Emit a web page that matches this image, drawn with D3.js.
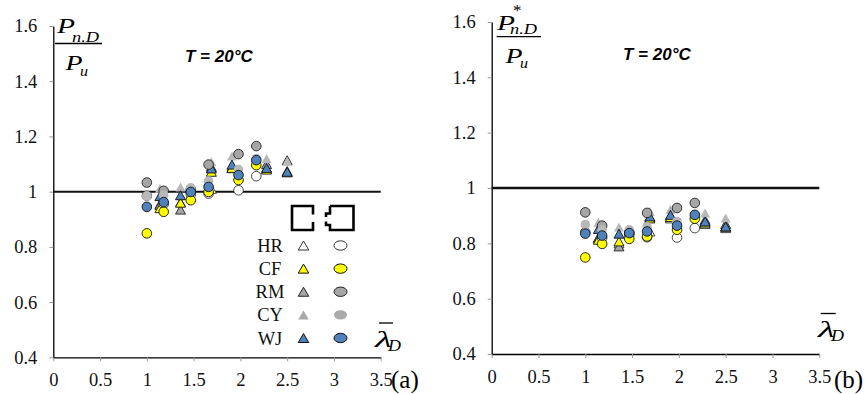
<!DOCTYPE html>
<html><head><meta charset="utf-8">
<script src="https://cdn.jsdelivr.net/npm/d3@7"></script>
<style>body{margin:0;background:#fff}svg{display:block}</style>
</head><body><svg id="c" width="866" height="394"></svg>
<script>
// ---- data ----
const xTicks = [0, 0.5, 1, 1.5, 2, 2.5, 3, 3.5];
const xTickLabels = ["0", "0.5", "1", "1.5", "2", "2.5", "3", "3.5"];
const yTicks = [0.4, 0.6, 0.8, 1, 1.2, 1.4, 1.6];
const yTickLabels = ["0.4", "0.6", "0.8", "1", "1.2", "1.4", "1.6"];
const series = ["HR", "RM", "CY", "CF", "WJ"];          // drawing order
const legendOrder = ["HR", "CF", "RM", "CY", "WJ"];
const triX = [1.14, 1.36, 1.69, 1.91, 2.28, 2.5];
const cirX = [1.0, 1.18, 1.47, 1.66, 1.98, 2.17];
// panel (a): P_n.D / P_u
const aTri = {
  HR: [0.955, 0.962, 1.01, 1.085, 1.085, 1.075],
  CF: [0.94, 0.96, 1.072, 1.086, 1.08, 1.07],
  RM: [0.952, 0.935, 1.09, 1.09, 1.10, 1.114],
  CY: [1.012, 1.017, 1.108, 1.129, 1.12, 1.11],
  WJ: [0.984, 0.987, 1.084, 1.098, 1.086, 1.072]
};
const aCir = {
  HR: [0.985, 0.955, 0.99, 0.993, 1.005, 1.056],
  CF: [0.849, 0.927, 0.969, 0.999, 1.042, 1.096],
  RM: [1.033, 1.003, 1.008, 1.098, 1.136, 1.165],
  CY: [0.984, 0.987, 1.014, 1.038, 1.08, 1.12],
  WJ: [0.945, 0.962, 0.999, 1.017, 1.06, 1.114]
};
// panel (b): P*_n.D / P_u
const bTri = {
  HR: [0.82, 0.80, 0.843, 0.89, 0.87, 0.855],
  CF: [0.813, 0.807, 0.89, 0.895, 0.875, 0.86],
  RM: [0.82, 0.789, 0.895, 0.90, 0.885, 0.87],
  CY: [0.876, 0.859, 0.915, 0.922, 0.91, 0.892],
  WJ: [0.852, 0.835, 0.897, 0.903, 0.879, 0.861]
};
const bCir = {
  HR: [0.84, 0.82, 0.83, 0.822, 0.821, 0.855],
  CF: [0.749, 0.798, 0.816, 0.825, 0.849, 0.889],
  RM: [0.912, 0.864, 0.84, 0.91, 0.928, 0.946],
  CY: [0.868, 0.849, 0.849, 0.86, 0.879, 0.90],
  WJ: [0.835, 0.828, 0.837, 0.843, 0.864, 0.903]
};
const refValue = 1;

// ---- styles ----
const fill = {HR: "#ffffff", CF: "#ffff00", RM: "#a6a6a6", CY: "#b8b8b8", WJ: "#4f81bd"};
const stroke = {HR: "#333", CF: "#111", RM: "#222", CY: "none", WJ: "#111"};

const svg = d3.select("#c");
const serif = "'Liberation Serif','Times New Roman',serif";

function triPath(cx, cy, w, h) {
  return `M${cx},${cy - h / 2}L${cx + w / 2},${cy + h / 2}L${cx - w / 2},${cy + h / 2}Z`;
}

function panel(p) {
  const x = d3.scaleLinear().domain([0, 3.5]).range([p.x0, p.x1]);
  const y = d3.scaleLinear().domain([0.4, 1.6]).range([p.y0, p.y1]);
  const g = svg.append("g");

  const ax = g.append("g").attr("transform", `translate(0,${p.y0})`)
    .call(d3.axisBottom(x).tickValues(xTicks).tickFormat((d, i) => xTickLabels[i])
      .tickSize(4).tickSizeOuter(0).tickPadding(12));
  const ay = g.append("g").attr("transform", `translate(${p.x0},0)`)
    .call(d3.axisLeft(y).tickValues(yTicks).tickFormat((d, i) => yTickLabels[i])
      .tickSize(4).tickSizeOuter(0).tickPadding(12));
  [ax, ay].forEach(a => {
    a.attr("font-family", serif).attr("font-size", 18.5);
    a.select(".domain").attr("stroke", "#000").attr("stroke-width", 1.3);
    a.selectAll(".tick line").attr("stroke", "#999");
    a.selectAll(".tick text").style("font-family", serif).style("font-size", "18.5px").attr("fill", "#111");
  });

  // reference line
  g.append("line").attr("x1", x(0)).attr("x2", x(3.5)).attr("y1", y(refValue)).attr("y2", y(refValue))
    .attr("stroke", "#111").attr("stroke-width", p.refW);

  // markers
  series.forEach(s => {
    g.selectAll(null).data(p.tri[s]).enter().append("path")
      .attr("d", (v, i) => triPath(x(triX[i]), y(v), 10, 9))
      .attr("fill", fill[s]).attr("stroke", stroke[s]).attr("stroke-width", 0.9);
  });
  series.forEach(s => {
    g.selectAll(null).data(p.cir[s]).enter().append("circle")
      .attr("cx", (v, i) => x(cirX[i])).attr("cy", v => y(v)).attr("r", 4.8)
      .attr("fill", fill[s]).attr("stroke", stroke[s]).attr("stroke-width", 0.9);
  });

  // T = 20°C
  g.append("text").attr("x", p.tx).attr("y", p.ty).text("T = 20°C")
    .attr("font-family", "'Liberation Sans',Arial,sans-serif").attr("font-weight", "bold")
    .attr("font-style", "italic").attr("font-size", 17);

  // y label fraction
  const f = p.frac;
  const it = (xx, yy, t, fs, tl) => {
    const e = g.append("text").attr("x", xx).attr("y", yy).text(t)
      .style("font-family", serif).style("font-style", "italic").style("font-size", fs + "px");
    if (tl) e.attr("textLength", tl).attr("lengthAdjust", "spacingAndGlyphs");
    return e;
  };
  it(f.nx, f.ny, "P", 22, 18);
  it(f.sx, f.sy, "n.D", 14, 27);
  if (f.star) g.append("text").attr("x", f.star[0]).attr("y", f.star[1]).text("*")
    .style("font-family", serif).style("font-size", "17px");
  g.append("line").attr("x1", f.l1).attr("x2", f.l2).attr("y1", f.ly).attr("y2", f.ly)
    .attr("stroke", "#000").attr("stroke-width", 1.3);
  it(f.dx, f.dy, "P", 22, 17);
  it(f.ux, f.uy, "u", 14, 8);

  // x label lambda bar D
  const l = p.lam;
  it(l.x, l.y, "λ", 24, 17);
  g.append("line").attr("x1", l.b1).attr("x2", l.b2).attr("y1", l.by).attr("y2", l.by)
    .attr("stroke", "#000").attr("stroke-width", 1.3);
  it(l.x + 13, l.y + 4, "D", 16, 13);

  // panel letter
  g.append("text").attr("x", p.lx).attr("y", 388).text(p.letter)
    .style("font-family", serif).style("font-size", "25px");
  return {x, y, g};
}

const A = panel({
  x0: 53.3, x1: 380.7, y0: 357.3, y1: 26, refW: 2, tri: aTri, cir: aCir,
  tx: 185, ty: 61.5, letter: "(a)", lx: 391,
  frac: {nx: 57, ny: 33, sx: 72, sy: 41.5, l1: 55, l2: 102, ly: 43.5, dx: 65.5, dy: 70, ux: 80, uy: 75.5},
  lam: {x: 375, y: 346.5, b1: 379, b2: 393, by: 323}
});
const B = panel({
  x0: 491.7, x1: 819.3, y0: 354, y1: 22, refW: 2.6, tri: bTri, cir: bCir,
  tx: 623, ty: 59.5, letter: "(b)", lx: 834,
  frac: {nx: 497, ny: 29.5, sx: 510, sy: 34, star: [513, 16], l1: 496.7, l2: 541, ly: 36.7, dx: 505.5, dy: 63, ux: 520, uy: 68},
  lam: {x: 818, y: 337, b1: 820.7, b2: 835.7, by: 313.5}
});

// legend (panel a)
const lg = svg.append("g");
const rowY = d3.scalePoint().domain(legendOrder).range([245.5, 338]);
const triCol = 303.5, cirCol = 340.5;
lg.selectAll(null).data(legendOrder).enter().append("text")
  .attr("x", 270).attr("y", d => rowY(d) + 6.5).attr("text-anchor", "middle").text(d => d)
  .style("font-family", serif).style("font-size", "18.5px").attr("fill", "#111");
lg.selectAll(null).data(legendOrder).enter().append("path")
  .attr("d", d => triPath(triCol, rowY(d), 10.5, 9))
  .attr("fill", d => d === "CY" ? "#aaaaaa" : fill[d]).attr("stroke", d => stroke[d]).attr("stroke-width", 1);
lg.selectAll(null).data(legendOrder).enter().append("ellipse")
  .attr("cx", cirCol).attr("cy", d => rowY(d)).attr("rx", 6.5).attr("ry", 4.7)
  .attr("fill", d => d === "CY" ? "#aaaaaa" : fill[d]).attr("stroke", d => stroke[d]).attr("stroke-width", 1);
// section icons
lg.append("path").attr("d", "M313,214.5V206H292V230H313V222")
  .attr("fill", "none").attr("stroke", "#000").attr("stroke-width", 2.6).attr("stroke-linejoin", "miter");
lg.append("path").attr("d", "M330,206H353.5V230H330V225H326V221.5M326,217V213.5H330V206")
  .attr("fill", "none").attr("stroke", "#000").attr("stroke-width", 2.6).attr("stroke-linejoin", "miter");
</script></body></html>
